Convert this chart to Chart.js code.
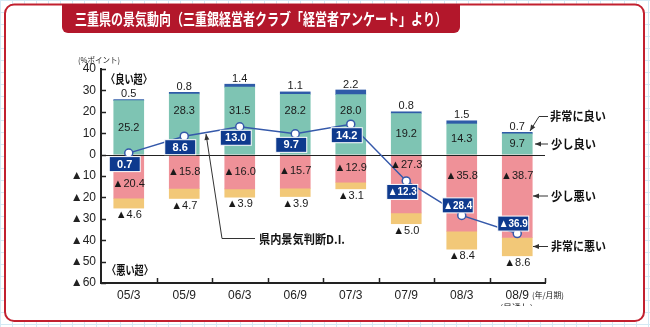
<!DOCTYPE html>
<html>
<head>
<meta charset="utf-8">
<script src="https://cdn.jsdelivr.net/npm/chart.js@4.4.0/dist/chart.umd.min.js"></script>
<style>
html, body { margin: 0; padding: 0; }
body {
  width: 650px; height: 327px; overflow: hidden;
  background-color: #fff;
  background-image: linear-gradient(#d4e9f4 1px, transparent 1px), linear-gradient(90deg, #d4e9f4 1px, transparent 1px);
  background-size: 12px 12px;
}
</style>
</head>
<body>
<canvas id="chart" width="650" height="327"></canvas>
<script>
// data (% points, negative = "▲")
var categories   = ['05/3', '05/9', '06/3', '06/9', '07/3', '07/9', '08/3', '08/9'];
var veryGood     = [0.5, 0.8, 1.4, 1.1, 2.2, 0.8, 1.5, 0.7];
var slightlyGood = [25.2, 28.3, 31.5, 28.2, 28.0, 19.2, 14.3, 9.7];
var slightlyBad  = [-20.4, -15.8, -16.0, -15.7, -12.9, -27.3, -35.8, -38.7];
var veryBad      = [-4.6, -4.7, -3.9, -3.9, -3.1, -5.0, -8.4, -8.6];
var diValues     = [0.7, 8.6, 13.0, 9.7, 14.2, -12.3, -28.4, -36.9];
var yMin = -60, yMax = 40, yStep = 10;

var NUM = '"Liberation Sans", Arial, "Noto Sans CJK JP", sans-serif';
var JP = '"Noto Sans CJK JP", "Noto Sans CJK SC", sans-serif';

function fmt(v) {
    return v < 0 ? '▲' + (-v).toFixed(1) : v.toFixed(1);
}

function tickLabel(v) {
    return v < 0 ? '▲' + (-v) : String(v);
}

// draws text squeezed/stretched to a given width
function fitText(ctx, text, x, y, w, font, color, align) {
    ctx.save();
    ctx.font = font;
    var m = ctx.measureText(text).width;
    ctx.translate(x, y);
    ctx.scale(w / m, 1);
    ctx.textAlign = align || 'left';
    ctx.textBaseline = 'middle';
    ctx.fillStyle = color;
    ctx.fillText(text, 0, 0);
    ctx.restore();
}

function arrow(ctx, x1, y1, x2, y2) {
    var a = Math.atan2(y2 - y1, x2 - x1);
    ctx.beginPath();
    ctx.moveTo(x1, y1);
    ctx.lineTo(x2, y2);
    ctx.stroke();
    ctx.beginPath();
    ctx.moveTo(x2, y2);
    ctx.lineTo(x2 - 6 * Math.cos(a) + 2.5 * Math.sin(a), y2 - 6 * Math.sin(a) - 2.5 * Math.cos(a));
    ctx.lineTo(x2 - 6 * Math.cos(a) - 2.5 * Math.sin(a), y2 - 6 * Math.sin(a) + 2.5 * Math.cos(a));
    ctx.closePath();
    ctx.fill();
}

var decor = {
    id: 'decor',
    beforeDraw: function(chart) {
        var ctx = chart.ctx;
        ctx.save();
        // red frame
        ctx.beginPath();
        ctx.roundRect(5, 4.5, 639, 316.5, 9);
        ctx.fillStyle = '#fff';
        ctx.fill();
        ctx.lineWidth = 2;
        ctx.strokeStyle = '#c2202f';
        ctx.stroke();
        // title banner
        ctx.beginPath();
        ctx.roundRect(62, 4, 398, 29, [0, 0, 6, 6]);
        ctx.fillStyle = '#b3172b';
        ctx.fill();
        ctx.restore();
        fitText(ctx, '三重県の景気動向（三重銀経営者クラブ「経営者アンケート」より）', 261, 19, 372, 'bold 16px ' + JP, '#fff', 'center');
    },
    beforeDatasetDraw: function(chart, args) {
        if (args.meta.type !== 'line') return;
        var ctx = chart.ctx, ys = chart.scales.y, area = chart.chartArea;
        var y0 = Math.round(ys.getPixelForValue(0)) + 0.5;
        ctx.save();
        ctx.strokeStyle = '#222';
        ctx.lineWidth = 1;
        ctx.beginPath();
        ctx.moveTo(area.left, y0);
        ctx.lineTo(area.right, y0);
        ctx.stroke();
        ctx.restore();
    },
    afterDatasetsDraw: function(chart) {
        var ctx = chart.ctx, xs = chart.scales.x, ys = chart.scales.y, area = chart.chartArea;
        var yPix = function(v) { return ys.getPixelForValue(v); };
        ctx.save();

        // inward tick marks
        ctx.strokeStyle = '#222';
        ctx.lineWidth = 1.5;
        for (var v = yMin; v <= yMax; v += yStep) {
            var ty = Math.round(yPix(v)) + 0.5;
            ctx.beginPath();
            ctx.moveTo(area.left, ty);
            ctx.lineTo(area.left + 5, ty);
            ctx.stroke();
        }
        var cw = (area.right - area.left) / categories.length;
        for (var k = 1; k <= categories.length; k++) {
            var tx = Math.round(area.left + k * cw) + 0.5;
            ctx.beginPath();
            ctx.moveTo(tx, area.bottom);
            ctx.lineTo(tx, area.bottom - 5);
            ctx.stroke();
        }

        // value labels
        ctx.textAlign = 'center';
        ctx.textBaseline = 'middle';
        var lineMeta = chart.getDatasetMeta(4);
        for (var i = 0; i < categories.length; i++) {
            var x = xs.getPixelForValue(i);
            var pt = lineMeta.data[i];
            ctx.font = '11px ' + NUM;
            ctx.fillStyle = '#1a1a1a';
            ctx.fillText(fmt(veryGood[i]), x, yPix(slightlyGood[i] + veryGood[i]) - 5.5);

            // teal label moves up when the D.I. point sits in its way
            var gy = yPix(slightlyGood[i] / 2);
            if (Math.abs(gy - pt.y) < 16) gy = yPix(20.2);
            ctx.fillText(fmt(slightlyGood[i]), x, gy);
            ctx.fillText(fmt(veryBad[i]), x, yPix(slightlyBad[i] + veryBad[i]) + 7);

            var boxY = pt.y + (diValues[i] < -20 ? -10 : 11);
            var py = Math.min(yPix(slightlyBad[i] / 2), yPix(-10));
            if (Math.abs(py - boxY) < 18) py = py > boxY ? boxY + 20 : boxY - 27;
            ctx.fillText(fmt(slightlyBad[i]), x, py);
        }

        // D.I. boxes
        for (var j = 0; j < categories.length; j++) {
            var p = lineMeta.data[j];
            var bx = p.x - 4, by = p.y + (diValues[j] < -20 ? -10 : 11);
            ctx.fillStyle = '#0e3a8e';
            ctx.fillRect(bx - 15.5, by - 7.5, 31, 15);
            ctx.strokeStyle = '#fff';
            ctx.lineWidth = 1;
            ctx.strokeRect(bx - 15.5, by - 7.5, 31, 15);
            ctx.fillStyle = '#fff';
            ctx.font = 'bold 11px ' + NUM;
            ctx.fillText(fmt(diValues[j]), bx, by + 0.5, 29);
        }

        // annotations
        fitText(ctx, '(%ポイント)', 78, 60, 42, '8px ' + JP, '#222');
        fitText(ctx, '〈良い超〉', 106, 79, 46, 'bold 12px ' + JP, '#111');
        fitText(ctx, '〈悪い超〉', 107, 270, 46, 'bold 12px ' + JP, '#111');
        fitText(ctx, '県内景気判断D.I.', 259, 239, 86, 'bold 12px ' + JP, '#111');
        fitText(ctx, '非常に良い', 550, 116.5, 56, 'bold 12px ' + JP, '#111');
        fitText(ctx, '少し良い', 551, 144, 45, 'bold 12px ' + JP, '#111');
        fitText(ctx, '少し悪い', 551, 196, 45, 'bold 12px ' + JP, '#111');
        fitText(ctx, '非常に悪い', 551, 246.5, 55, 'bold 12px ' + JP, '#111');
        fitText(ctx, '(年/月期)', 532, 295, 32, '8px ' + JP, '#222');
        ctx.save();
        ctx.beginPath();
        ctx.rect(480, 298, 100, 8);
        ctx.clip();
        fitText(ctx, '(見通し)', 500, 308, 33, '9px ' + JP, '#222');
        ctx.restore();

        // leader lines
        ctx.strokeStyle = '#333';
        ctx.fillStyle = '#333';
        ctx.lineWidth = 1;
        ctx.beginPath();
        ctx.moveTo(255, 238.5);
        ctx.lineTo(222, 238.5);
        ctx.stroke();
        arrow(ctx, 222, 238.5, 206, 134);
        ctx.beginPath();
        ctx.moveTo(548, 116.5);
        ctx.lineTo(539, 116.5);
        ctx.stroke();
        arrow(ctx, 539, 116.5, 530, 131);
        arrow(ctx, 548, 144, 535, 144);
        arrow(ctx, 548, 196, 533, 196);
        arrow(ctx, 548, 246.5, 533, 246.5);
        ctx.restore();
    }
};

var ctx = document.getElementById('chart').getContext('2d');
var chart = new Chart(ctx, {
    type: 'bar',
    data: {
        labels: categories,
        datasets: [
            { label: '少し良い', data: slightlyGood, backgroundColor: '#7ec4b3', stack: 's', barThickness: 30, order: 1 },
            { label: '非常に良い', data: veryGood, backgroundColor: '#2f5ba8', stack: 's', barThickness: 30, order: 1 },
            { label: '少し悪い', data: slightlyBad, backgroundColor: '#ef9198', stack: 's', barThickness: 30, order: 1 },
            { label: '非常に悪い', data: veryBad, backgroundColor: '#f2c878', stack: 's', barThickness: 30, order: 1 },
            {
                type: 'line', label: '県内景気判断D.I.', data: diValues, stack: 'di', order: 0,
                borderColor: '#3559aa', borderWidth: 1.5, tension: 0,
                pointRadius: 4, pointBackgroundColor: '#fff', pointBorderColor: '#3559aa', pointBorderWidth: 1.5
            }
        ]
    },
    options: {
        responsive: false,
        animation: false,
        layout: { padding: { top: 69, right: 105, left: 0, bottom: 0 } },
        plugins: { legend: { display: false }, tooltip: { enabled: false } },
        scales: {
            x: {
                stacked: true,
                grid: { display: true, color: 'rgba(0,0,0,0)', drawTicks: false },
                border: { display: true, color: '#222', width: 2 },
                ticks: { color: '#222', font: { size: 12, family: NUM }, padding: 5, maxRotation: 0 },
                afterFit: function(s) { s.height = 44; }
            },
            y: {
                stacked: true,
                min: yMin,
                max: yMax,
                grid: { display: true, color: 'rgba(0,0,0,0)', drawTicks: false },
                border: { display: true, color: '#222', width: 2 },
                ticks: { stepSize: yStep, callback: tickLabel, color: '#222', font: { size: 12, family: NUM }, padding: 5 },
                afterFit: function(s) { s.width = 101; }
            }
        }
    },
    plugins: [decor]
});
</script>
</body>
</html>
